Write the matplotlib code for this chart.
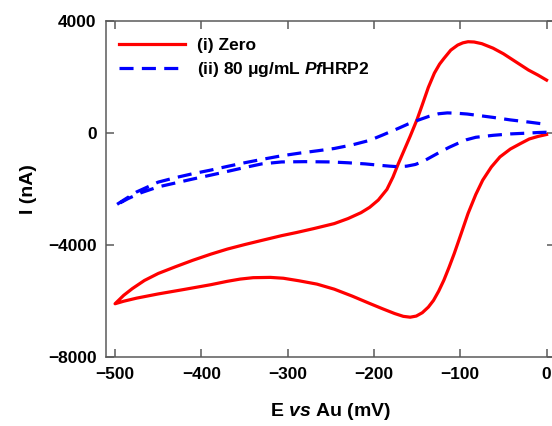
import matplotlib
matplotlib.use('Agg')
import matplotlib.pyplot as plt

plt.rcParams['font.family'] = 'Liberation Sans'
plt.rcParams['font.weight'] = 'bold'
plt.rcParams['mathtext.fontset'] = 'custom'
plt.rcParams['mathtext.it'] = 'Liberation Sans:bold:italic'
plt.rcParams['mathtext.rm'] = 'Liberation Sans:bold'

# (i) Zero - forward scan (-500 -> 0 mV)
zero_fwd_e = [-500, -490, -480, -466, -450, -430, -410, -389, -370, -350, -330, -307, -290, -270,
              -246, -230, -215, -205, -195, -185, -178, -172, -165, -158, -150, -144, -137, -130,
              -124, -119, -111, -103, -97, -91, -84, -75, -62, -50, -40, -30, -21, -10, 0]
zero_fwd_i = [-6100, -5800, -5560, -5270, -5020, -4780, -4550, -4330, -4150, -3990, -3840, -3670,
              -3560, -3420, -3240, -3060, -2850, -2660, -2400, -2020, -1580, -1120, -620, -120, 480,
              1000, 1620, 2130, 2450, 2650, 2950, 3130, 3210, 3250, 3240, 3180, 3020, 2820, 2620,
              2420, 2240, 2060, 1880]
# (i) Zero - reverse scan (0 -> -500 mV)
zero_rev_e = [0, -10, -20, -30, -42, -54, -64, -74, -82, -91, -99, -107, -113, -119, -125, -131,
              -137, -144, -151, -158, -166, -176, -190, -205, -225, -246, -266, -287, -305, -320,
              -340, -355, -370, -389, -420, -450, -475, -490, -500]
zero_rev_i = [-60, -130, -220, -380, -580, -860, -1220, -1690, -2200, -2880, -3600, -4310, -4800,
              -5260, -5650, -5980, -6220, -6420, -6540, -6580, -6550, -6450, -6280, -6090, -5830,
              -5580, -5400, -5280, -5190, -5160, -5170, -5220, -5300, -5420, -5590, -5750, -5900,
              -6010, -6100]

# (ii) 80 ug/mL PfHRP2 - forward scan
hrp_fwd_e = [-500, -490, -475, -460, -450, -430, -410, -389, -370, -350, -330, -307, -285, -265,
             -246, -225, -205, -190, -172, -160, -148, -136, -125, -115, -105, -92, -82, -62, -42,
             -20, 0]
hrp_fwd_i = [-2600, -2400, -2110, -1900, -1760, -1600, -1460, -1330, -1200, -1070, -950, -820, -720,
             -640, -560, -430, -270, -80, 155, 320, 460, 590, 680, 710, 700, 670, 630, 550, 460,
             380, 300]
# (ii) 80 ug/mL PfHRP2 - reverse scan
hrp_rev_e = [0, -10, -21, -42, -62, -82, -93, -103, -113, -123, -133, -143, -152, -162, -172, -182,
             -193, -210, -230, -250, -280, -307, -330, -350, -370, -389, -410, -430, -450, -470,
             -485, -500]
hrp_rev_i = [20, 10, -10, -40, -90, -160, -250, -380, -520, -680, -850, -1020, -1130, -1190, -1210,
             -1190, -1160, -1110, -1070, -1040, -1030, -1040, -1110, -1240, -1380, -1510, -1650,
             -1790, -1930, -2140, -2350, -2600]

xticks = [-500, -400, -300, -200, -100, 0]
yticks = [-8000, -4000, 0, 4000]

fig = plt.figure(figsize=(5.52, 4.26), dpi=100)
ax = fig.add_axes([0.1928, 0.162, 0.813, 0.7894])

red = '#ff0000'
blue = '#0000ff'
# draw each cycle from the 0 mV reverse start round to the forward end (no closing segment)
ax.plot(zero_rev_e + zero_fwd_e[1:], zero_rev_i + zero_fwd_i[1:], color=red, lw=2.3,
        solid_joinstyle='round', label='(i) Zero')
ax.plot(hrp_rev_e + hrp_fwd_e[1:], hrp_rev_i + hrp_fwd_i[1:], color=blue, lw=2.3,
        dashes=(4.4, 2.6), dash_joinstyle='round',
        label=r'(ii) 80 μg/mL $\mathit{Pf}$HRP2')

ax.set_xlim(-510, 10)
ax.set_ylim(-8000, 4000)
ax.set_xticks(xticks)
ax.set_yticks(yticks)

for s in ax.spines.values():
    s.set_color('#5a5a5a')
    s.set_linewidth(1.1)
ax.tick_params(direction='in', length=6, width=1.1, color='#5a5a5a',
               top=True, right=True, labelsize=12.5, pad=7)
for lab in ax.get_xticklabels() + ax.get_yticklabels():
    lab.set_fontweight('bold')

ax.set_xlabel(r'E $\mathit{vs}$ Au (mV)', fontsize=14, fontweight='bold', labelpad=14)
ax.set_ylabel('I (nA)', fontsize=14, fontweight='bold', labelpad=8)

leg = ax.legend(loc='upper left', frameon=False, fontsize=12.5, handlelength=3.8,
                handletextpad=0.7, labelspacing=0.4, borderaxespad=0.3,
                bbox_to_anchor=(0.0, 0.985))
for t in leg.get_texts():
    t.set_fontweight('bold')

fig.savefig('out.png', dpi=100)
